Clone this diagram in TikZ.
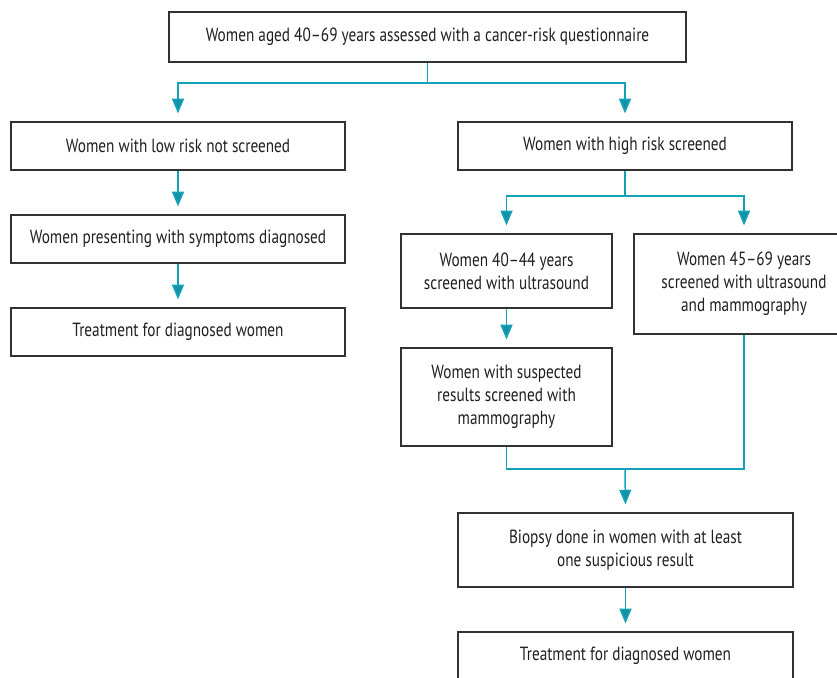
\documentclass[tikz,border=0pt]{standalone}
\usepackage{fontspec}
\setmainfont{PT Sans}[FakeStretch=0.8]
\usetikzlibrary{arrows.meta}
\definecolor{flowteal}{RGB}{20,162,185}
\definecolor{boxgray}{RGB}{50,50,50}

\begin{document}
\begin{tikzpicture}[x=0.75pt,y=-0.75pt,
    box/.style 2 args={draw=boxgray,line width=0.9pt,align=center,inner sep=0pt,
        minimum width=#1*0.75pt,minimum height=#2*0.75pt,
        font=\fontsize{14.3}{17.25}\selectfont,text=black!88},
    link/.style={draw=flowteal,line width=1.1pt},
    arr/.style={link,-{Triangle[width=9pt,length=11pt,fill=flowteal!90!black]},shorten >=6pt}]
        \useasboundingbox (0,0) rectangle (837,677);
        \clip (0,0) rectangle (837,677);
        \node[box={517}{50}] (start) at (427.5,37) {Women aged 40--69 years assessed with a cancer-risk questionnaire};
        \node[box={334}{48}] (low) at (178,146) {Women with low risk not screened};
        \node[box={334}{48}] (symptoms) at (178,239) {Women presenting with symptoms diagnosed};
        \node[box={334}{48}] (treatlow) at (178,332) {Treatment for diagnosed women};
        \node[box={334}{48}] (high) at (625,146) {Women with high risk screened};
        \node[box={211}{74}] (young) at (506.5,271) {Women 40--44 years\\screened with ultrasound};
        \node[box={220}{100}] (old) at (744,284) {Women 45--69 years\\screened with ultrasound\\and mammography};
        \node[box={211}{98}] (suspect) at (506.5,397) {Women with suspected\\results screened with\\mammography};
        \node[box={335}{74}] (biopsy) at (625.5,550) {Biopsy done in women with at least\\one suspicious result};
        \node[box={335}{48}] (treathigh) at (625.5,656) {Treatment for diagnosed women};
        \coordinate (split) at (427.5,83);
        \coordinate (splithigh) at (625,196);
        \coordinate (merge) at (625,469);
        \draw[link] (start.south) -- (split);
        \draw[arr] (split) -| (low.north);
        \draw[arr] (split) -| (high.north);
        \draw[arr] (low.south) -- (symptoms.north);
        \draw[arr] (symptoms.south) -- (treatlow.north);
        \draw[link] (high.south) -- (splithigh);
        \draw[arr] (splithigh) -| (young.north);
        \draw[arr] (splithigh) -| (old.north);
        \draw[arr] (young.south) -- (suspect.north);
        \draw[link] (suspect.south) |- (merge);
        \draw[link] (old.south) |- (merge);
        \draw[arr] (merge) -- (biopsy.north);
        \draw[arr] (biopsy.south) -- (treathigh.north);
\end{tikzpicture}
\end{document}
